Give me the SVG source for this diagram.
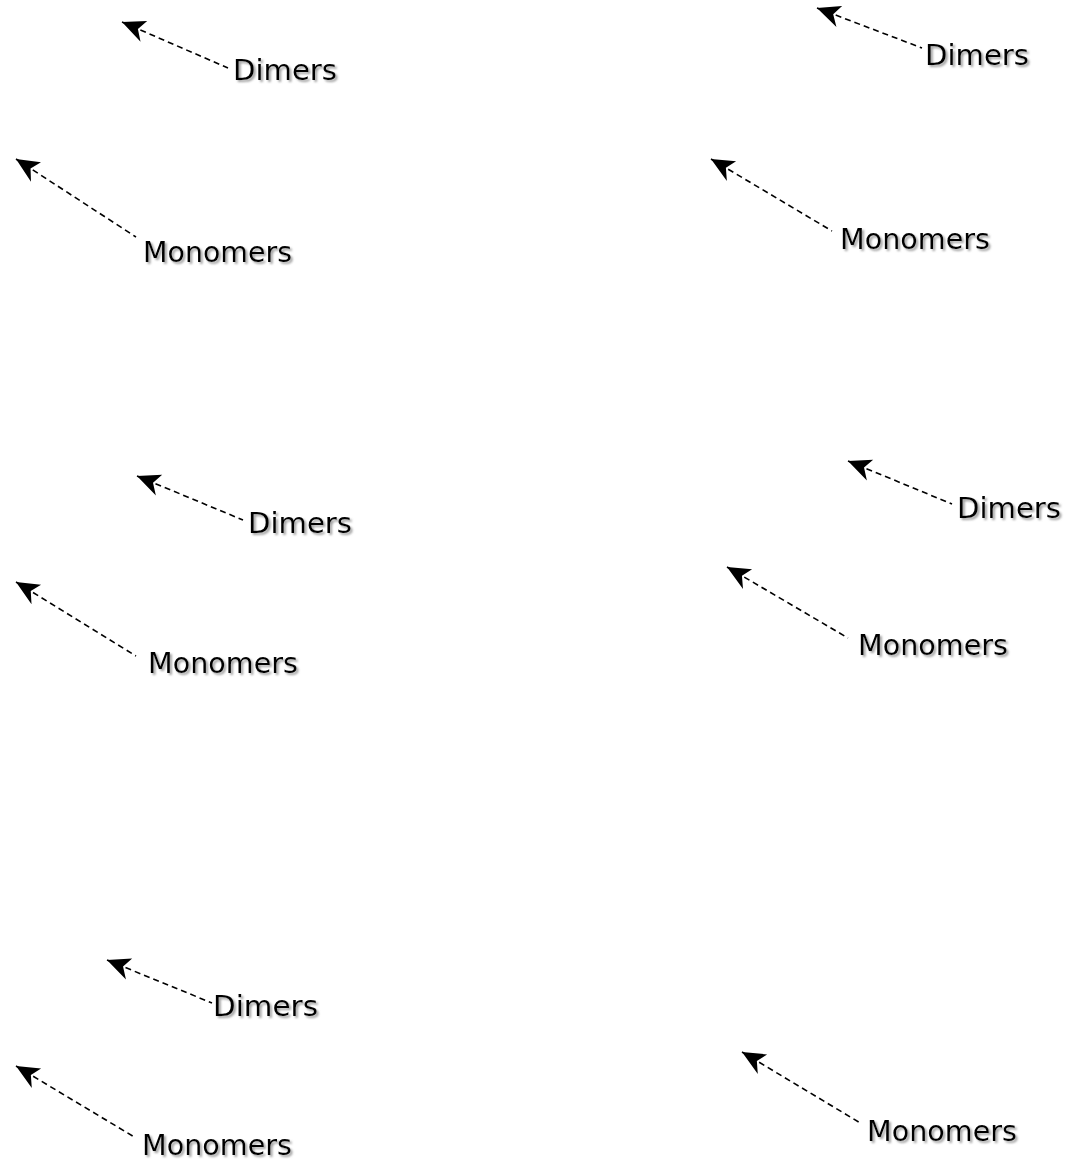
<svg xmlns="http://www.w3.org/2000/svg" width="1083" height="1162" viewBox="0 0 1083 1162">
<style>
.lbl{font-family:"DejaVu Sans","Liberation Sans",sans-serif;font-size:29px;fill:#000;filter:url(#sh)}
.c{fill:none;stroke:#000;stroke-width:1.6;stroke-dasharray:6 4;marker-start:url(#ah)}
</style>
<defs>
<filter id="sh" x="-10%" y="-20%" width="130%" height="150%">
<feDropShadow dx="2" dy="2" stdDeviation="0.8" flood-color="#888" flood-opacity="0.8"/>
</filter>
<marker id="ah" markerUnits="userSpaceOnUse" markerWidth="26" markerHeight="26" viewBox="0 0 24 22" refX="23" refY="11" orient="auto-start-reverse">
<path d="M23,11 L0,1 L7,11 L2,21 Z" fill="#000"/>
</marker>
</defs>
<rect width="1083" height="1162" fill="#fff"/>
<g id="connectors">
<line class="c" x1="122" y1="22" x2="228" y2="68"/>
<line class="c" x1="16" y1="159" x2="136" y2="237"/>
<line class="c" x1="817" y1="8" x2="922" y2="48"/>
<line class="c" x1="711" y1="159" x2="832" y2="231"/>
<line class="c" x1="137" y1="476" x2="243" y2="520"/>
<line class="c" x1="16" y1="582" x2="136" y2="656"/>
<line class="c" x1="848" y1="461" x2="952" y2="504"/>
<line class="c" x1="727" y1="567" x2="848" y2="638"/>
<line class="c" x1="107" y1="960" x2="212" y2="1003"/>
<line class="c" x1="16" y1="1066" x2="136" y2="1138"/>
<line class="c" x1="742" y1="1052" x2="862" y2="1124"/>
</g>
<g id="dimers-1"><text class="lbl" x="233" y="80" textLength="104" lengthAdjust="spacingAndGlyphs">Dimers</text></g>
<g id="monomers-1"><text class="lbl" x="143" y="262" textLength="149" lengthAdjust="spacingAndGlyphs">Monomers</text></g>
<g id="dimers-2"><text class="lbl" x="925" y="65" textLength="104" lengthAdjust="spacingAndGlyphs">Dimers</text></g>
<g id="monomers-2"><text class="lbl" x="840" y="249" textLength="150" lengthAdjust="spacingAndGlyphs">Monomers</text></g>
<g id="dimers-3"><text class="lbl" x="248" y="533" textLength="104" lengthAdjust="spacingAndGlyphs">Dimers</text></g>
<g id="monomers-3"><text class="lbl" x="148" y="673" textLength="150" lengthAdjust="spacingAndGlyphs">Monomers</text></g>
<g id="dimers-4"><text class="lbl" x="957" y="518" textLength="104" lengthAdjust="spacingAndGlyphs">Dimers</text></g>
<g id="monomers-4"><text class="lbl" x="858" y="655" textLength="150" lengthAdjust="spacingAndGlyphs">Monomers</text></g>
<g id="dimers-5"><text class="lbl" x="213" y="1016" textLength="105" lengthAdjust="spacingAndGlyphs">Dimers</text></g>
<g id="monomers-5"><text class="lbl" x="142" y="1155" textLength="150" lengthAdjust="spacingAndGlyphs">Monomers</text></g>
<g id="monomers-6"><text class="lbl" x="867" y="1141" textLength="150" lengthAdjust="spacingAndGlyphs">Monomers</text></g>
</svg>
